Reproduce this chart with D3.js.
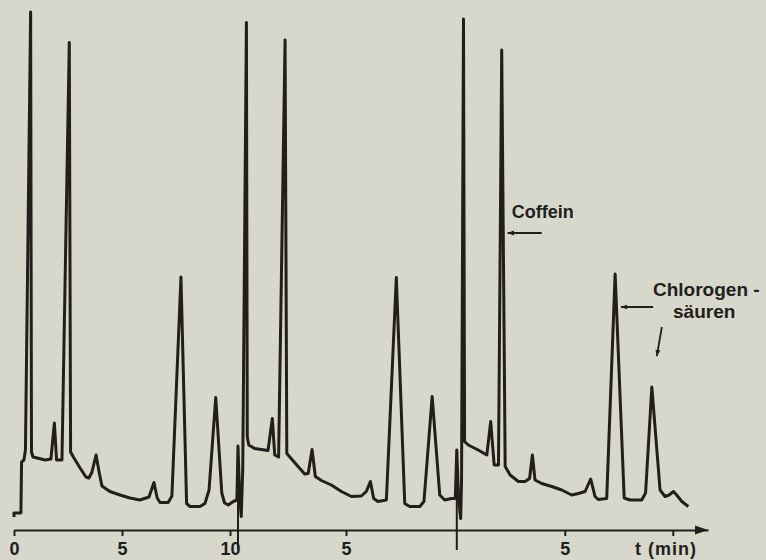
<!DOCTYPE html>
<html>
<head>
<meta charset="utf-8">
<script src="https://cdn.jsdelivr.net/npm/d3@7"></script>
<style>
  body { margin: 0; background: #d7d8cb; }
  svg { display: block; }
  text { font-family: "Liberation Sans", Arial, sans-serif; font-weight: bold; fill: #221e1b; }
</style>
</head>
<body>
<svg id="chart" width="766" height="560"></svg>
<script>
// Global Variables
// three successive injections, time in min since each injection, detector signal in arbitrary units
var runStarts = [0, 10.37, 20.5];

var run1 = [
    [0, 2.6], [0, 3.4], [0.32, 3.4], [0.35, 13.6], [0.46, 14], [0.53, 16], [0.77, 103.6],
    [0.81, 15.6], [0.88, 14.6], [1.44, 14], [1.71, 14.2], [1.87, 21.4], [1.97, 14], [2.22, 14],
    [2.56, 97.5], [2.62, 15.6], [2.75, 14.6], [3.06, 12.4], [3.33, 10.6], [3.47, 10.4], [3.61, 11.6],
    [3.80, 15], [3.94, 11.6], [4.07, 8.8], [4.44, 7.7], [4.91, 7], [5.37, 6.4], [5.83, 6],
    [6.25, 6.6], [6.48, 9.5], [6.63, 6.4], [6.76, 5.5], [7.14, 5.5], [7.31, 6.8], [7.73, 50.6],
    [7.99, 5.3], [8.15, 4.7], [8.61, 4.7], [8.84, 5.3], [9.03, 8], [9.34, 26.5], [9.62, 7.4],
    [9.75, 5.4], [9.92, 5], [10.15, 5.7], [10.32, 6]
];
var run2 = [
    [0, 16.8], [0.08, 6.4], [0.15, 2.7], [0.22, 12], [0.39, 101.5], [0.43, 18.6], [0.50, 17],
    [0.77, 16.3], [1.39, 15.9], [1.59, 22.3], [1.70, 15], [1.88, 14.6], [2.18, 98], [2.26, 15.3],
    [2.46, 14.3], [2.78, 12.7], [3.09, 11.2], [3.25, 11.3], [3.43, 16.1], [3.58, 10.7], [3.86, 9.9],
    [4.32, 9], [4.79, 7.7], [5.25, 6.7], [5.71, 6.8], [5.94, 7.7], [6.13, 9.7], [6.28, 6.3],
    [6.48, 5.7], [6.87, 6], [7.33, 50.5], [7.72, 5.3], [7.95, 4.7], [8.42, 4.7], [8.61, 5.7],
    [8.99, 26.7], [9.34, 7], [9.57, 6], [9.88, 6.3], [10.06, 6.3]
];
var run3 = [
    [0, 16], [0.08, 6.4], [0.18, 2.3], [0.22, 10], [0.31, 102.2], [0.36, 17.7], [0.53, 17],
    [0.99, 16], [1.39, 15], [1.57, 21.7], [1.73, 13], [1.93, 13], [2.08, 96], [2.24, 12.7],
    [2.47, 11], [2.85, 9.7], [3.16, 9.7], [3.37, 10.3], [3.50, 15], [3.62, 10], [3.93, 9.3],
    [4.40, 8.7], [4.86, 8], [5.32, 7], [5.63, 7.3], [5.94, 7.7], [6.20, 10.2], [6.40, 6.7],
    [6.55, 6.1], [6.94, 6.3], [7.33, 51.2], [7.75, 6.4], [8.02, 6], [8.56, 6], [8.74, 7.4],
    [9.03, 28.6], [9.41, 8], [9.64, 6.7], [9.83, 7], [10.03, 7.7], [10.18, 7], [10.42, 5.7],
    [10.72, 4.7]
];
var runs = [run1, run2, run3];

// axis ticks: run index, minutes after that run's injection, label
var tickRun = [0, 0, 0, 1, 2, 2];
var tickRel = [0, 5, 10, 5, 5, 10];
var tickLabels = ["0", "5", "10", "5", "5", ""];

// peaks pointed at in the last run (min after injection)
var coffeinTime = 2.08, coffeinSignal = 96;
var chloro1Time = 7.33, chloro1Signal = 51.2;
var chloro2Time = 9.03, chloro2Signal = 28.6;

var ink = "#221e1b";
var svg = d3.select("#chart");

var x = d3.scaleLinear().domain([0, 32.13]).range([14, 708]);
var y = d3.scaleLinear().domain([0, 103.6]).range([530, 12]);

function absT(run, t) { return runStarts[run] + t; }

// arrow head
svg.append("defs").append("marker")
    .attr("id", "head")
    .attr("viewBox", "0 0 10 10")
    .attr("refX", 9).attr("refY", 5)
    .attr("markerWidth", 7).attr("markerHeight", 7)
    .attr("markerUnits", "userSpaceOnUse")
    .attr("orient", "auto")
    .append("path").attr("d", "M0,1.5 L10,5 L0,8.5 Z").attr("fill", ink);

//** Axis */
var axis = d3.axisBottom(x)
    .tickValues(tickRel.map(function (t, i) { return absT(tickRun[i], t); }))
    .tickFormat(function (d, i) { return tickLabels[i]; })
    .tickSize(6).tickSizeOuter(0).tickPadding(6);

var gAxis = svg.append("g").attr("transform", "translate(0," + y(0) + ")").call(axis);
gAxis.select(".domain").attr("stroke", ink).attr("stroke-width", 2);
gAxis.selectAll(".tick line").attr("stroke", ink).attr("stroke-width", 2);
gAxis.selectAll(".tick text").attr("font-size", 18).attr("font-family", null).attr("fill", ink);

// axis arrow
var xEnd = x.range()[1];
svg.append("path")
    .attr("d", "M" + (xEnd - 13) + "," + (y(0) - 4.5) + " L" + xEnd + "," + y(0) + " L" + (xEnd - 13) + "," + (y(0) + 4.5) + " Z")
    .attr("fill", ink);

svg.append("text").attr("x", 635).attr("y", 555).attr("font-size", 18)
    .attr("letter-spacing", 1).text("t (min)");

//** Injection markers for runs 2 and 3 */
[1, 2].forEach(function (r) {
    svg.append("line")
        .attr("x1", x(runStarts[r])).attr("x2", x(runStarts[r]))
        .attr("y1", y(runs[r][0][1])).attr("y2", y(0) + 20)
        .attr("stroke", ink).attr("stroke-width", 2);
});

//** Trace */
var trace = [];
runs.forEach(function (run, r) {
    run.forEach(function (p) { trace.push([absT(r, p[0]), p[1]]); });
});

var line = d3.line()
    .x(function (d) { return x(d[0]); })
    .y(function (d) { return y(d[1]); });

svg.append("path")
    .datum(trace)
    .attr("d", line)
    .attr("fill", "none")
    .attr("stroke", ink)
    .attr("stroke-width", 3)
    .attr("stroke-linejoin", "round");

//** Annotations */
var cx = x(absT(2, coffeinTime));
svg.append("text").attr("x", cx + 10).attr("y", 218).attr("font-size", 18).text("Coffein");
svg.append("line")
    .attr("x1", cx + 40).attr("x2", cx + 6)
    .attr("y1", 233).attr("y2", 233)
    .attr("stroke", ink).attr("stroke-width", 1.8)
    .attr("marker-end", "url(#head)");

var c1x = x(absT(2, chloro1Time));
svg.append("line")
    .attr("x1", c1x + 38).attr("x2", c1x + 6)
    .attr("y1", y(chloro1Signal) + 33).attr("y2", y(chloro1Signal) + 33)
    .attr("stroke", ink).attr("stroke-width", 1.8)
    .attr("marker-end", "url(#head)");
svg.append("text").attr("x", 653).attr("y", 296).attr("font-size", 19).text("Chlorogen -");
svg.append("text").attr("x", 673).attr("y", 318).attr("font-size", 19).text("säuren");

var c2x = x(absT(2, chloro2Time));
svg.append("line")
    .attr("x1", c2x + 10).attr("x2", c2x + 5)
    .attr("y1", y(chloro2Signal) - 60).attr("y2", y(chloro2Signal) - 31)
    .attr("stroke", ink).attr("stroke-width", 1.8)
    .attr("marker-end", "url(#head)");
</script>
</body>
</html>
